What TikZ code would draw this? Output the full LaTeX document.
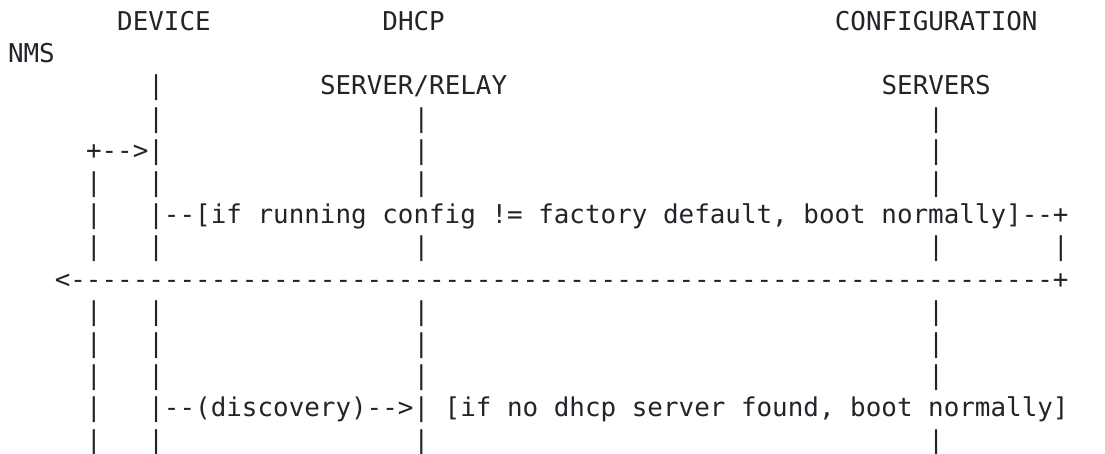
\documentclass[tikz,border=0pt]{standalone}
\usepackage{fontspec}
\setmonofont{DejaVu Sans Mono}
\definecolor{ink}{RGB}{33,37,41}

\tikzset{every picture/.style={line width=0.75pt}}
% one character cell is 15.6 wide, one text line 32.2 high
\tikzset{ascii/.style={anchor=base west,inner sep=0pt,text=ink,font=\ttfamily\fontsize{19.43}{23}\selectfont}}

\begin{document}
\begin{tikzpicture}[x=0.75pt,y=0.75pt,yscale=-1,xscale=1]
\useasboundingbox (0,0) rectangle (1105,453);

% Text Node
\node [ascii] (dev) at (116.7,30.5) {DEVICE};
% Text Node
\node [ascii] (dhcp) at (381.9,30.5) {DHCP};
% Text Node
\node [ascii] (cfg) at (834.3,30.5) {CONFIGURATION};
% Text Node
\node [ascii] (nms) at (7.5,62.7) {NMS};
% Text Node
\node [ascii] (relay) at (319.5,94.9) {SERVER/RELAY};
% Text Node
\node [ascii] (srv) at (881.1,94.9) {SERVERS};

%Lifelines: full rows
\foreach \r in {5,7,9,10,11,13}
  \foreach \c in {5,9,26,59}
    \node [ascii] (bar-\c-\r) at ({7.5+15.6*\c},{30.5+32.2*\r}) {|};
%Lifelines: the rest
\foreach \c/\r in {9/2,9/3,26/3,59/3,26/4,59/4,5/6,5/12,67/7}
  \node [ascii] (bar-\c-\r) at ({7.5+15.6*\c},{30.5+32.2*\r}) {|};

% Text Node
\node [ascii] (loop) at (85.5,159.3) {+-->|};
% Text Node
\node [ascii] (check) at (147.9,223.7) {|--[if running config != factory default, boot normally]--+};
% Text Node
\node [ascii] (ret) at (54.3,288.1) {<---------------------------------------------------------------+};
% Text Node
\node [ascii] (disc) at (147.9,416.9) {|--(discovery)-->| [if no dhcp server found, boot normally]};

\end{tikzpicture}
\end{document}
